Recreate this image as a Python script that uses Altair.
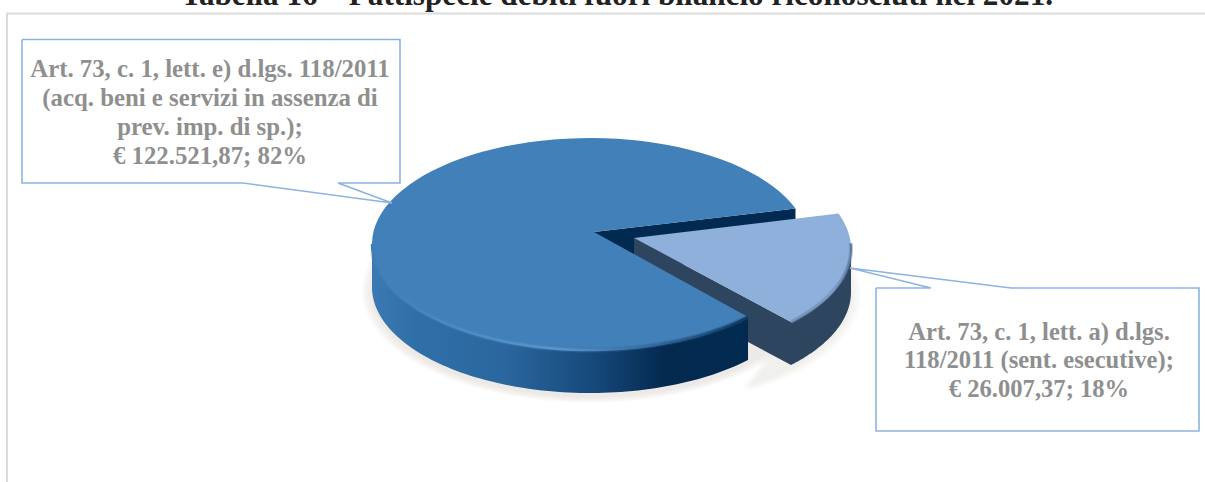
import numpy as np
import pandas as pd
import altair as alt

# Chart values
title_text = "Tabella 16 – Fattispecie debiti fuori bilancio riconosciuti nel 2021."
amounts = [122521.87, 26007.37]
label_lines_large = [
    "Art. 73, c. 1, lett. e) d.lgs. 118/2011",
    "(acq. beni e servizi in assenza di",
    "prev. imp. di sp.);",
    "€ 122.521,87; 82%",
]
label_lines_small = [
    "Art. 73, c. 1, lett. a) d.lgs.",
    "118/2011 (sent. esecutive);",
    "€ 26.007,37; 18%",
]

# Tilted pie geometry (pixels on an identity scale)
CX, CY, A, B = 590, 244, 218, 106
DEPTH = 43
BIG_APEX = (594, 232)
SMALL_APEX = (634, 238)
EXPLODE = (43, 5)
START = 19.5

share_small = amounts[1] / sum(amounts)
END = START - share_small * 360

X = alt.X("x:Q", scale=alt.Scale(domain=[0, 1205], range=[0, 1205]), axis=None)
Y = alt.Y("y:Q", scale=alt.Scale(domain=[0, 482], range=[0, 482]), axis=None)


def arc(t0, t1, dx=0, dy=0, grow=0, n=90):
    t = np.radians(np.linspace(t0, t1, n))
    return list(zip(CX + dx + (A + grow) * np.cos(t), CY + dy - (B + grow * 0.55) * np.sin(t)))


def shifted(points, dy):
    return [(p[0], p[1] + dy) for p in points]


def polygon(points, **mark):
    df = pd.DataFrame(points, columns=["x", "y"])
    df["o"] = range(len(df))
    return alt.Chart(df).mark_line(interpolate="linear", **mark).encode(
        x=X, y=Y, order="o:Q"
    )


def fill(points, color, **mark):
    closed = list(points) + [points[0]]
    return polygon(closed, fill=color, stroke=None, strokeWidth=0, **mark)


def hgrad(stops):
    return alt.Gradient(
        gradient="linear", x1=0, x2=1, y1=0, y2=0,
        stops=[alt.GradientStop(offset=o, color=c) for o, c in stops],
    )


layers = []

# Chart frame, open along the bottom
layers.append(polygon([(7, 482), (7, 13.5), (1205, 13.5)], stroke="#dcdcdc", strokeWidth=2))

# Soft shadow under the pie and the detached slice
for grow in [10, 7, 4, 1]:
    layers.append(fill(arc(0, 360, 0, DEPTH + 4, grow), "#cfc8be", opacity=0.1))
    layers.append(fill(arc(-60, 20, EXPLODE[0], EXPLODE[1] + DEPTH + 3, grow), "#cfc8be", opacity=0.08))

# Inner wall of the large slice, visible in the gap
top_end = arc(START, START, n=1)[0]
layers.append(fill([BIG_APEX, top_end, (top_end[0], top_end[1] + DEPTH),
                    (BIG_APEX[0], BIG_APEX[1] + DEPTH)], "#02294f"))

# Detached slice: cut face and rim wall share one silhouette, then the top
small_arc = arc(END, START, *EXPLODE)
rim = arc(END, 0, *EXPLODE)
layers.append(fill([SMALL_APEX] + rim + shifted(rim, DEPTH)[::-1]
                   + [(SMALL_APEX[0], SMALL_APEX[1] + DEPTH)], "#2e4560"))
layers.append(fill([SMALL_APEX] + small_arc, "#8eb0da"))
layers.append(polygon(arc(END, 3, *EXPLODE), strokeWidth=4, opacity=0.35,
                      stroke=hgrad([(0, "#5f7fa6"), (1, "#4e6b90")])))
layers.append(polygon(arc(END, 3, *EXPLODE), strokeWidth=2,
                      stroke=hgrad([(0, "#6f8fb6"), (0.7, "#7f9fc8"), (1, "#5e7ba0")])))

# Large slice: rim wall with a dark falloff, then the top
wall = arc(180, 360 + END)
layers.append(fill(wall + shifted(wall, DEPTH)[::-1],
                   hgrad([(0, "#3a79b2"), (0.12, "#2f6fa8"), (0.35, "#2b679e"), (0.58, "#174a7c"),
                          (0.78, "#03294f"), (1, "#022a50")])))
big_arc = arc(START, 360 + END)
layers.append(fill([BIG_APEX] + big_arc, "#4180b8"))
layers.append(polygon(arc(185, 360 + END), strokeWidth=5, opacity=0.3,
                      stroke=hgrad([(0, "#4180b8"), (0.45, "#4f8dc6"), (0.75, "#1f5285"), (1, "#0f3a66")])))
layers.append(polygon(arc(180, 360 + END), strokeWidth=2.5,
                      stroke=hgrad([(0, "#3f7db4"), (0.2, "#4a89c2"), (0.5, "#5a96cc"),
                                    (0.8, "#2c5f90"), (1, "#0f3a66")])))

# Callouts: white box with a wedge pointing at its slice
blue = "#8db3e2"
layers.append(polygon([(22, 39.5), (400, 39.5), (400, 183), (338, 183), (392, 203),
                       (243, 183), (22, 183), (22, 39.5)], stroke=blue, strokeWidth=1.6, fill="white"))
layers.append(polygon([(876, 288), (931, 288), (850, 268), (1011, 288), (1199, 288),
                       (1199, 431), (876, 431), (876, 288)], stroke=blue, strokeWidth=1.6, fill="white"))


def text_block(lines, cx, baselines, size, color):
    df = pd.DataFrame({"t": lines, "x": [cx] * len(lines), "y": baselines})
    return alt.Chart(df).mark_text(
        font="Liberation Serif", fontWeight="bold", fontSize=size, color=color,
        align="center", baseline="alphabetic",
    ).encode(x=X, y=Y, text="t:N")


layers.append(text_block(label_lines_large, 210, [77, 106, 135, 164], 24.8, "#8f8f8f"))
layers.append(text_block(label_lines_small, 1039, [340, 368, 397], 24.6, "#8f8f8f"))
layers.append(text_block([title_text], 617, [5], 31.2, "#222222"))

chart = alt.layer(*layers).properties(
    width=1205, height=482, padding=0, autosize="none", background="white",
).configure_view(stroke=None)

chart.save("out.html", embed_options={"renderer": "svg", "actions": False})
